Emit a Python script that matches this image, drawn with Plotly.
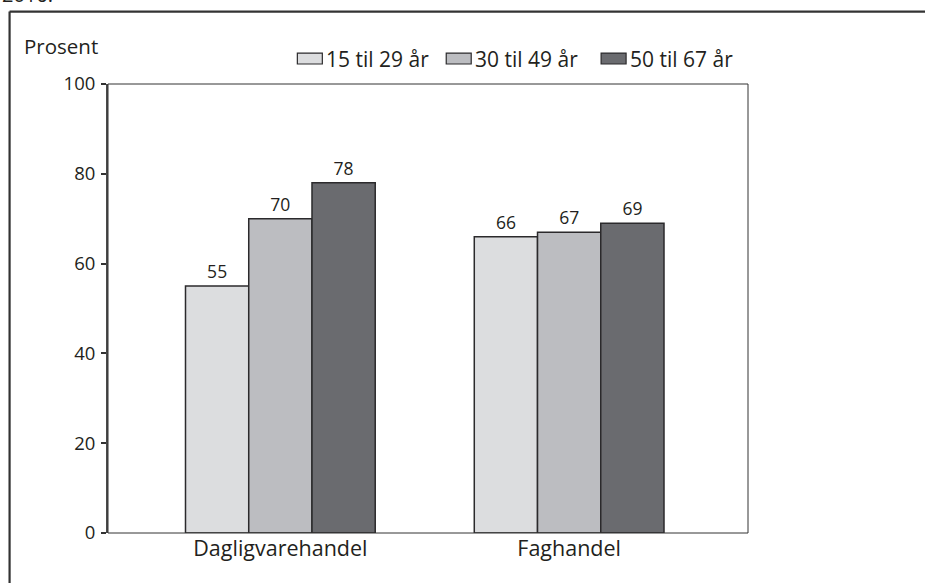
import plotly.graph_objects as go

# Share of employees by age group and trade sector (percent)
categories = ["Dagligvarehandel", "Faghandel"]
series_names = ["15 til 29 år", "30 til 49 år", "50 til 67 år"]
values_15_29 = [55, 66]
values_30_49 = [70, 67]
values_50_67 = [78, 69]
y_ticks = [0, 20, 40, 60, 80, 100]

series_values = [values_15_29, values_30_49, values_50_67]
colors = ["#dcdddf", "#bcbdc1", "#6a6b6f"]
FONT = "Open Sans"
TXT = "#231f20"

W, H = 925, 583
L, R, T, B = 107.5, 748, 84, 533.5


def px(x):
    return (x - L) / (R - L)


def py(y):
    return (B - y) / (B - T)


fig = go.Figure()
for name, vals, col in zip(series_names, series_values, colors):
    fig.add_trace(go.Bar(
        name=name, x=categories, y=vals,
        marker=dict(color=col, line=dict(color="#2b2a2c", width=1.5)),
        text=[str(v) for v in vals], textposition="outside",
        textfont=dict(family=FONT, size=17.5, color=TXT),
        cliponaxis=False, showlegend=False,
    ))

shapes = [
    # plot frame
    dict(type="rect", xref="paper", yref="paper", x0=0, x1=1, y0=0, y1=1,
         line=dict(color="#333333", width=1)),
    # outer frame: top and left edges
    dict(type="line", xref="paper", yref="paper",
         x0=px(9), x1=px(W + 5), y0=py(11.5), y1=py(11.5),
         line=dict(color="#333333", width=2.2)),
    dict(type="line", xref="paper", yref="paper",
         x0=px(9), x1=px(9), y0=py(11.5), y1=py(H + 5),
         line=dict(color="#333333", width=2.2)),
]
annotations = [
    dict(text="Prosent", xref="paper", yref="paper", x=px(21), y=py(46),
         xanchor="left", yanchor="middle", showarrow=False,
         font=dict(family=FONT, size=20.5, color=TXT)),
    dict(text="2016.", xref="paper", yref="paper", x=px(-1), y=py(10),
         xanchor="left", yanchor="bottom", showarrow=False,
         font=dict(family=FONT, size=20, color=TXT)),
]

# legend: swatch + label per series
box_x = [297, 446, 601]
for name, col, bx in zip(series_names, colors, box_x):
    shapes.append(dict(type="rect", xref="paper", yref="paper",
                       x0=px(bx), x1=px(bx + 25), y0=py(64), y1=py(53),
                       fillcolor=col, line=dict(color="#2b2a2c", width=1.2)))
    annotations.append(dict(text=name, xref="paper", yref="paper",
                            x=px(bx + 27), y=py(59), xanchor="left",
                            yanchor="middle", showarrow=False,
                            font=dict(family=FONT, size=21, color=TXT)))

fig.update_layout(
    width=W, height=H,
    margin=dict(l=L, r=W - R, t=T, b=H - B, pad=0),
    paper_bgcolor="white", plot_bgcolor="white",
    barmode="group", bargap=0.343, bargroupgap=0,
    shapes=shapes, annotations=annotations,
    font=dict(family=FONT, size=18, color=TXT),
    xaxis=dict(range=[(L - 280) / 289, (R - 280) / 289], showgrid=False,
               showline=False, ticks="", zeroline=False,
               tickfont=dict(family=FONT, size=21.5, color=TXT)),
    yaxis=dict(range=[0, 100], tickvals=y_ticks, showgrid=False,
               zeroline=False, showline=True, linecolor="#4a4a4a",
               linewidth=2, ticks="outside", ticklen=5, tickwidth=1.5,
               tickcolor="#333333", ticklabelstandoff=2,
               tickfont=dict(family=FONT, size=18.5, color=TXT)),
)

fig.write_html("out.html")
